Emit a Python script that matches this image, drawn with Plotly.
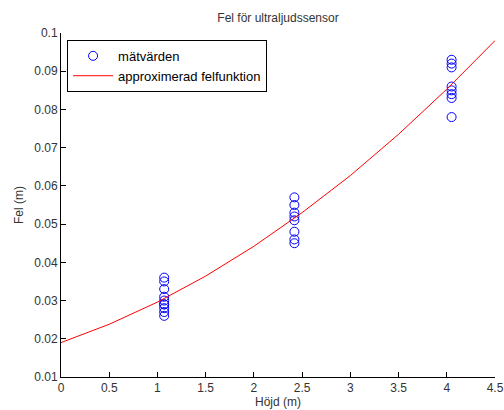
import plotly.graph_objects as go

# measured values (x positions and errors)
x_meas = [1.07]*10 + [2.42]*8 + [4.05]*8
y_meas = [0.036, 0.035, 0.033, 0.031, 0.030, 0.029, 0.029, 0.028, 0.027, 0.026,
          0.057, 0.055, 0.053, 0.052, 0.051, 0.048, 0.046, 0.045,
          0.093, 0.092, 0.091, 0.086, 0.085, 0.084, 0.083, 0.078]

# approximated error function
x_fit = [0, 0.5, 1.0, 1.5, 2.0, 2.5, 3.0, 3.5, 4.0, 4.5]
y_fit = [0.019, 0.0238, 0.0296, 0.0364, 0.0442, 0.0530, 0.0627, 0.0735, 0.0853, 0.098]

x_ticks = [0, 0.5, 1, 1.5, 2, 2.5, 3, 3.5, 4, 4.5]
y_ticks = [0.01, 0.02, 0.03, 0.04, 0.05, 0.06, 0.07, 0.08, 0.09, 0.1]

font = "Liberation Sans, Arial, sans-serif"

fig = go.Figure()
fig.add_trace(go.Scatter(x=x_meas, y=y_meas, mode="markers", name="mätvärden",
                         marker=dict(symbol="circle-open", size=9, color="blue",
                                     line=dict(width=1, color="blue"))))
fig.add_trace(go.Scatter(x=x_fit, y=y_fit, mode="lines", name="approximerad felfunktion",
                         line=dict(color="red", width=1)))

axis_common = dict(showgrid=False, zeroline=False, showline=True, linecolor="black",
                   linewidth=1, ticks="inside", ticklen=5, tickcolor="black",
                   tickfont=dict(family=font, size=12, color="#333"), mirror=False,
                   automargin=False)

fig.update_layout(
    width=504, height=410,
    margin=dict(l=61, r=9, t=33, b=33),
    paper_bgcolor="white", plot_bgcolor="white",
    title=dict(text="Fel för ultraljudssensor", x=(61 + 495) / 2 / 504, xanchor="center",
               y=1 - 18 / 410, yanchor="middle",
               font=dict(family=font, size=12, color="#333")),
    xaxis=dict(range=[0, 4.5], tickvals=x_ticks,
               title=dict(text="Höjd (m)", font=dict(family=font, size=12, color="#333"), standoff=2),
               **axis_common),
    yaxis=dict(range=[0.01, 0.1], tickvals=y_ticks,
               title=dict(text="Fel (m)", font=dict(family=font, size=12, color="#333"), standoff=8),
               **axis_common),
    legend=dict(x=0.014, y=0.98, xanchor="left", yanchor="top",
                bordercolor="black", borderwidth=1, bgcolor="white",
                font=dict(family=font, size=13, color="black"),
                tracegroupgap=0, itemwidth=40),
    showlegend=True,
)

fig.write_html("out.html")
